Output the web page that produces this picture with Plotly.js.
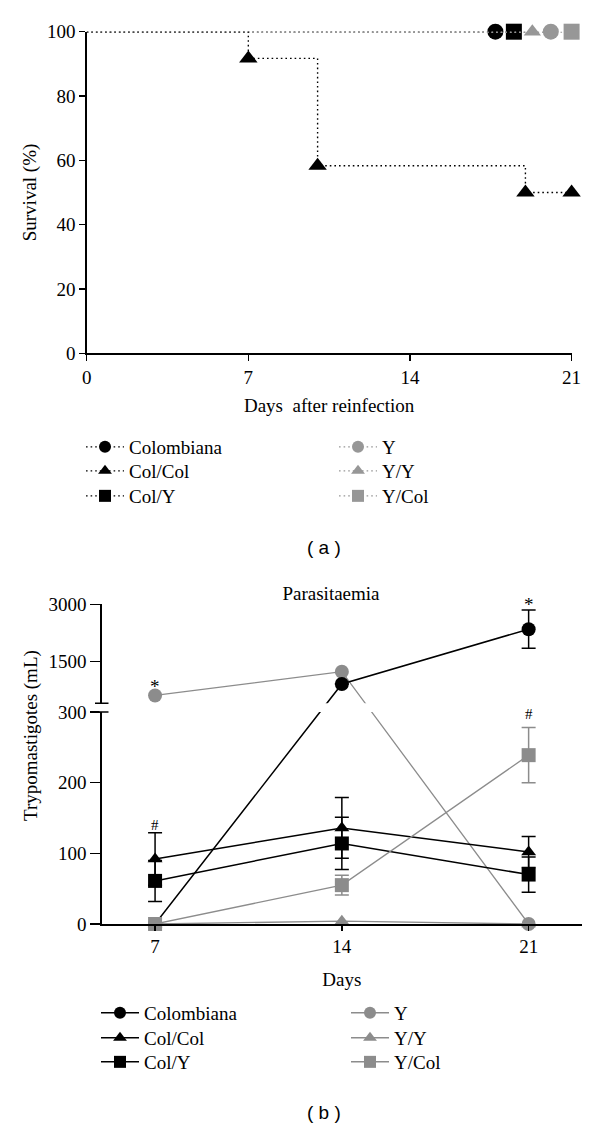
<!DOCTYPE html>
<html><head><meta charset="utf-8">
<script src="https://cdn.plot.ly/plotly-3.0.1.min.js"></script>
<style>html,body{margin:0;padding:0;background:#fff}#chart{width:600px;height:1127px}</style>
</head><body><div id="chart"></div>
<script>
// ---------- Panel (a): survival (%) vs days after reinfection ----------
const survDaysColCol = [0, 7, 10, 19, 21];
const survColCol     = [100, 91.7, 58.3, 50, 50];
// groups that all stay at 100 %; last-point (censor) day
const survGroups   = ['Colombiana', 'Col/Y', 'Y/Y', 'Y', 'Y/Col'];
const survEndDay   = [17.7, 18.5, 19.3, 20.1, 21];
const survStartDay = 0;
const survAllAlive = 100;
const survXTicks   = [0, 7, 14, 21];

// ---------- Panel (b): parasitaemia ----------
const days          = [7, 14, 21];
const colombiana    = [0, 920, 2350];
const colombianaErr = [0, 0, 500];
const colCol        = [92, 136, 102];
const colColErr     = [37, 43, 22];
const colY          = [61, 114, 70];
const colYErr       = [29, 37, 25];
const yStrain       = [620, 1240, 0];
const yy            = [0, 4, 0];
const yCol          = [0, 55, 239];
const yColErr       = [0, 14, 39];
const parTickVals   = [0, 100, 200, 300, 1500, 3000];
// broken axis: lower segment 0..300, upper segment 413..3000
const LOW_MAX = 300, UP_MIN = 413, UP_MAX = 3000, GAP = 12.3, UP_SCALE = 0.0542;

// legend rows (two columns per row)
const legendRows = [['Colombiana', 'Y'], ['Col/Col', 'Y/Y'], ['Col/Y', 'Y/Col']];

function toDisp(v) {
  return v <= LOW_MAX ? v : LOW_MAX + GAP + (v - UP_MIN) * UP_SCALE;
}
const TOP = toDisp(UP_MAX);

const SERIF = 'Liberation Serif, Times New Roman, serif';
const SANS = 'Liberation Sans, Arial, sans-serif';
const BLACK = '#000000';
const GREY_A = '#979797';
const GREY_B = '#8c8c8c';
const DOTS = '1.6px,3px';

const style = {
  'Colombiana': {grey: false, symbol: 'circle'},
  'Col/Col':    {grey: false, symbol: 'triangle-up'},
  'Col/Y':      {grey: false, symbol: 'square'},
  'Y':          {grey: true,  symbol: 'circle'},
  'Y/Y':        {grey: true,  symbol: 'triangle-up'},
  'Y/Col':      {grey: true,  symbol: 'square'}
};
function col(name, grey) { return style[name].grey ? grey : BLACK; }
function msz(name, base) { return style[name].symbol === 'triangle-up' ? base - 1 : base; }

const traces = [];

// Panel (a) curves (black groups first so the grey dotted lines lie on top)
survGroups.forEach((g, i) => {
  traces.push({
    type: 'scatter', mode: 'lines+markers', xaxis: 'x', yaxis: 'y',
    x: [survStartDay, survEndDay[i]], y: [survAllAlive, survAllAlive],
    line: {color: col(g, GREY_A), width: style[g].grey ? 2.2 : 1.2, dash: DOTS},
    marker: {color: col(g, GREY_A), symbol: style[g].symbol, size: [0, msz(g, 16)],
             opacity: 1, line: {width: 0}},
    showlegend: false, cliponaxis: false, hoverinfo: 'skip'
  });
});
traces.push({
  type: 'scatter', mode: 'lines+markers', xaxis: 'x', yaxis: 'y',
  x: survDaysColCol, y: survColCol,
  line: {color: BLACK, width: 1.4, dash: DOTS, shape: 'hv'},
  marker: {color: BLACK, symbol: 'triangle-up', size: survDaysColCol.map((d, i) => i === 0 ? 0 : 16),
           opacity: 1, line: {width: 0}},
  showlegend: false, cliponaxis: false, hoverinfo: 'skip'
});

// Panel (b) curves
function errObj(vals, errs, color) {
  return {
    type: 'data', symmetric: false,
    array: vals.map((v, i) => toDisp(v + errs[i]) - toDisp(v)),
    arrayminus: vals.map((v, i) => toDisp(v) - toDisp(Math.max(0, v - errs[i]))),
    color: color, thickness: 1.5, width: 7
  };
}
const parSeries = [
  ['Y', yStrain, null],
  ['Y/Y', yy, null],
  ['Colombiana', colombiana, colombianaErr],
  ['Col/Col', colCol, colColErr],
  ['Col/Y', colY, colYErr],
  ['Y/Col', yCol, yColErr]
];
parSeries.forEach(([name, vals, errs]) => {
  const c = col(name, GREY_B);
  const t = {
    type: 'scatter', mode: 'lines+markers', xaxis: 'x2', yaxis: 'y2',
    x: days, y: vals.map(toDisp),
    line: {color: c, width: c === BLACK ? 1.5 : 1.3},
    marker: {color: c, symbol: style[name].symbol, size: msz(name, 14)},
    showlegend: false, cliponaxis: false, hoverinfo: 'skip'
  };
  if (errs) t.error_y = errObj(vals, errs, c);
  traces.push(t);
});

// Legend entries: one horizontal legend per row, panel (a) rows then panel (b) rows
const legendIds = ['legend', 'legend2', 'legend3', 'legend4', 'legend5', 'legend6'];
legendRows.forEach((row, r) => {
  row.forEach((name, k) => {
    traces.push({
      type: 'scatter', mode: 'lines+markers', xaxis: 'x', yaxis: 'y',
      x: [null], y: [null], name: name, legend: legendIds[r], legendrank: k + 1,
      line: {color: col(name, GREY_A), width: 1.4, dash: DOTS},
      marker: {color: col(name, GREY_A), symbol: style[name].symbol, size: 12},
      hoverinfo: 'skip'
    });
    traces.push({
      type: 'scatter', mode: 'lines+markers', xaxis: 'x2', yaxis: 'y2',
      x: [null], y: [null], name: name, legend: legendIds[r + 3], legendrank: k + 1,
      line: {color: col(name, GREY_B), width: 1.5},
      marker: {color: col(name, GREY_B), symbol: style[name].symbol, size: 12},
      hoverinfo: 'skip'
    });
  });
});

const H = 1127, W = 600;
const py = p => 1 - p / H;
const px = p => p / W;

const axisCommon = {
  showline: true, linecolor: BLACK, linewidth: 1.5, showgrid: false, zeroline: false,
  ticks: 'outside', tickcolor: BLACK, tickwidth: 1.5,
  tickfont: {family: SERIF, size: 19, color: BLACK}, fixedrange: true
};

function rowLegend(xLeft, yTop, entryW, itemW) {
  return {
    orientation: 'h', x: px(xLeft), xanchor: 'left', y: py(yTop), yanchor: 'top',
    entrywidth: entryW, entrywidthmode: 'pixels', traceorder: 'normal', itemwidth: itemW,
    font: {family: SERIF, size: 19, color: BLACK}, bgcolor: 'rgba(0,0,0,0)'
  };
}

const layout = {
  width: W, height: H, margin: {l: 0, r: 0, t: 0, b: 0},
  paper_bgcolor: '#fff', plot_bgcolor: '#fff', showlegend: true,
  font: {family: SERIF, color: BLACK},
  title: {text: 'Parasitaemia', x: px(331), xanchor: 'center', y: py(593), yanchor: 'middle',
          font: {family: SERIF, size: 19, color: BLACK}},
  xaxis: Object.assign({}, axisCommon, {
    domain: [px(86.7), px(571.6)], range: [0, 21], anchor: 'y',
    tickvals: survXTicks, ticklen: 6,
    title: {text: 'Days  after reinfection', font: {family: SERIF, size: 19}, standoff: 12}
  }),
  yaxis: Object.assign({}, axisCommon, {
    domain: [py(353.3), py(31.7)], range: [0, 100], anchor: 'x',
    dtick: 20, ticklen: 6,
    title: {text: 'Survival (%)', font: {family: SERIF, size: 19}, standoff: 5}
  }),
  xaxis2: Object.assign({}, axisCommon, {
    domain: [px(101.7), px(582)], range: [5, 23], anchor: 'y2',
    tickvals: days, ticklen: 5,
    title: {text: 'Days', font: {family: SERIF, size: 19}, standoff: 16}
  }),
  yaxis2: Object.assign({}, axisCommon, {
    domain: [py(924), py(604.3)], range: [0, TOP], anchor: 'x2',
    tickvals: parTickVals.map(toDisp), ticktext: parTickVals.map(String), ticklen: 10
  }),
  legend:  rowLegend(81, 428, 200, 38),
  legend2: rowLegend(81, 452, 200, 38),
  legend3: rowLegend(81, 477, 200, 38),
  legend4: rowLegend(96, 994, 197, 38),
  legend5: rowLegend(96, 1019, 197, 38),
  legend6: rowLegend(96, 1043, 197, 38),
  shapes: [
    {type: 'rect', layer: 'above', xref: 'paper', yref: 'y2',
     x0: px(99.5), x1: px(590), y0: LOW_MAX, y1: LOW_MAX + GAP,
     fillcolor: '#ffffff', line: {width: 0}},
    {type: 'line', layer: 'above', xref: 'paper', yref: 'y2',
     x0: px(93), x1: px(108.5), y0: LOW_MAX, y1: LOW_MAX, line: {color: BLACK, width: 1.5}},
    {type: 'line', layer: 'above', xref: 'paper', yref: 'y2',
     x0: px(95), x1: px(108.5), y0: LOW_MAX + GAP, y1: LOW_MAX + GAP, line: {color: BLACK, width: 1.5}}
  ],
  annotations: [
    {text: 'Trypomastigotes (mL)', xref: 'paper', yref: 'paper', x: px(31), y: py(736),
     xanchor: 'center', yanchor: 'middle', textangle: -90, showarrow: false,
     font: {family: SERIF, size: 19, color: BLACK}},
    {text: '( a )', xref: 'paper', yref: 'paper', x: px(324), y: py(547), xanchor: 'center', yanchor: 'middle',
     showarrow: false, font: {family: SANS, size: 19, color: BLACK}},
    {text: '( b )', xref: 'paper', yref: 'paper', x: px(324), y: py(1112), xanchor: 'center', yanchor: 'middle',
     showarrow: false, font: {family: SANS, size: 19, color: BLACK}},
    {text: '*', xref: 'x2', yref: 'y2', x: days[0], y: toDisp(yStrain[0]), yshift: 9, yanchor: 'middle',
     showarrow: false, font: {family: SERIF, size: 19, color: BLACK}},
    {text: '*', xref: 'x2', yref: 'y2', x: days[2], y: toDisp(colombiana[2] + colombianaErr[2]), yshift: 6, yanchor: 'middle',
     showarrow: false, font: {family: SERIF, size: 19, color: BLACK}},
    {text: '#', xref: 'x2', yref: 'y2', x: days[0], y: toDisp(colCol[0] + colColErr[0]), yshift: 8, yanchor: 'middle',
     showarrow: false, font: {family: SERIF, size: 15, color: BLACK}},
    {text: '#', xref: 'x2', yref: 'y2', x: days[2], y: toDisp(yCol[2] + yColErr[2]), yshift: 14, yanchor: 'middle',
     showarrow: false, font: {family: SERIF, size: 15, color: BLACK}}
  ]
};

Plotly.newPlot('chart', traces, layout, {staticPlot: true, displayModeBar: false});
</script></body></html>
